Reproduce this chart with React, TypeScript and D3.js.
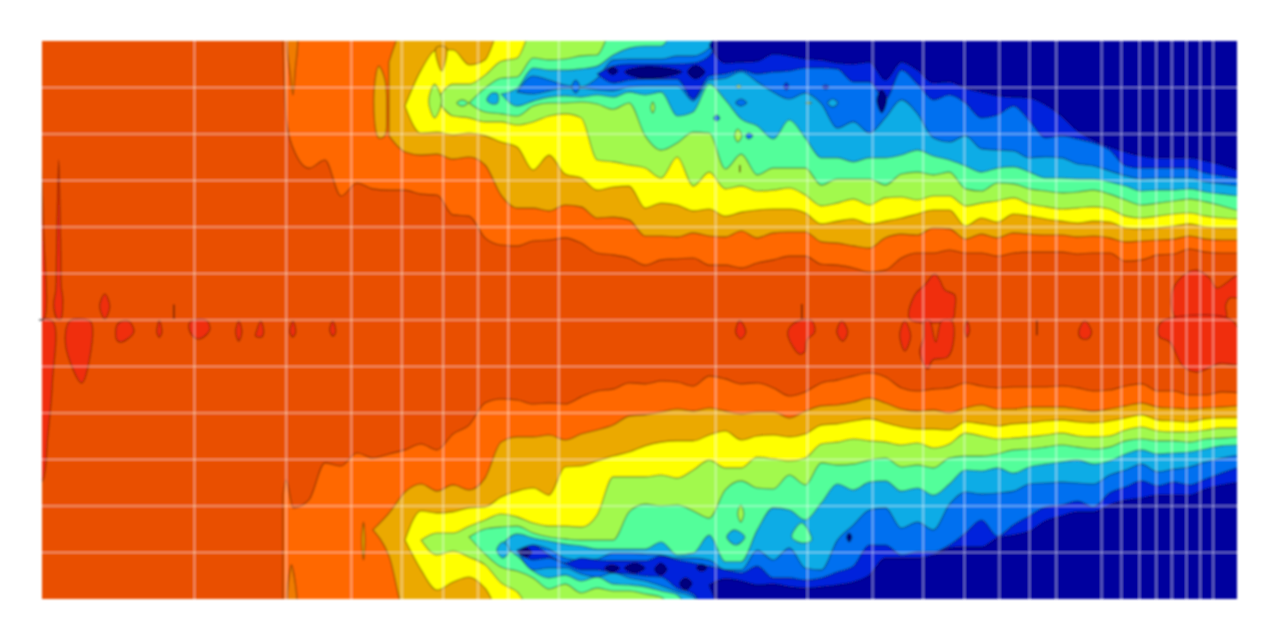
import React from "react";
import * as d3 from "d3";

const FREQS = [147.9,149.9,154.6,165.9,178,191,205,220,236.2,253.5,272.1,292,313.4,336.4,361,387.5,415.9,446.4,479,514.2,551.9,592.3,635.7,682.3,732.3,786,843.6,905.4,971.8,1043,1119.5,1201.5,1289.6,1384,1485.5,1594.4,1711,1836.7,1971.3,2115.8,2270.9,2437.4,2616,2807.7,3013.5,3234.4,3471.5,3726,3999,4292,4606.8,4944.4,5306.8,5695.8,6113.3,6561.4,7042,7558,8112,8707,9345,10100];
const FREQ_GRID = [100,150,200,250,300,350,400,500,1000,1500,2000,2500,3000,3500,4000,4500,5500,6000,6500,7000,7500,8000,8500,9000];
const ANGLE_GRID = [-75,-60,-45,-30,-15,0,15,30,45,60,75];

const COLORS = {
  deep: "#E94F00", orange: "#FF6800", amber: "#EBA900", yellow: "#FFFF00", lime: "#A2F94E",
  spring: "#52FE9A", sky: "#0FACE6", blue: "#0070F0", dblue: "#0520DC", navy: "#00009E", red: "#F02E0C",
};

// Angle (degrees) of each contour edge; each list ends at the last frequency.
const upOrange = [90,65.2,55.5,49,51.6,40,44.2,42.3,41.9,41.9,40.6,40.3,33.9,33.5,26.5,24.2,23.9,25.5,25.8,26.5,24.8,21.6,21,20,17.7,19.4,19.7,20,17.7,17.7,16.8,18.4,19.4,20.6,20.6,18,17.7,16.8,15.5,16.1,20,21.6,21.6,22.6,21.6,21.6,20.6,21.6,21.9,21.9,21.9,21.3,21.6,21.6,19,19.4,21,21.3,22.9,21.9,21.6,21.6];
const upAmber = [59.4,54.2,53.2,53.5,51.9,52.6,50,40.3,36.1,36.1,35.2,37.1,36.5,32.9,33.2,32.3,27.1,27.1,26.8,28.1,27.1,26.8,28.7,26.5,28.1,28.4,28.4,25.2,24.8,23.9,23.2,26.5,27.7,27.4,29.7,29.4,26.1,27.7,26.5,28.1,27.7,27.4,27.4,26.8,27.1,26.5,25.2,25.5,25.8,26.1,27.1,26.1,25.8,25.8];
const upAmberOuter = [83.2];
const upYellow = [69,60.3,60.6,59.7,60.3,59.4,57.4,55.8,48.4,53.2,47.1,45.8,41.9,42.9,43.2,36.1,37.7,37.1,35.2,35.8,33.5,34.8,35.5,35.8,35.8,34.5,31,31.9,32.6,31,31.9,32.9,34.2,35.5,35.5,30.3,32.9,31.6,34.2,33.5,32.6,31.9,31.3,31.9,31.6,29.7,29.4,29.7,30.3,31,30,29.7,29.7];
const upYellowOuter = [69,80.6,87.1,87.1,82.3,83.9];
const upLime = [71,65.8,65.2,63.9,63.9,62.9,63.9,65.8,66.5,65.2,51.6,51,50,49,45.8,52.6,43.2,47.7,42.3,43.2,41.6,41.9,42.6,40.3,36.8,37.7,39,37.1,39.4,39.7,38.7,40,40,36.8,37.7,38.4,39.4,37.4,36.5,35.8,36.1,36.5,35.8,33.5,32.9,33.5,34.2,34.5,33.5,32.9,32.6];
const upLimeOuter = [71,76.1,76.1,79,83.5,84.5];
const upSpring = [70,67.1,66.5,65.8,69,70,70,70.3,69.7,68,70,59.4,54.8,57.1,60.6,60.3,48.7,53.5,46.8,49,49,49,43.5,45.5,45.5,45.5,43.5,47.1,47.7,46.8,47.7,42.3,41.6,44.2,43.9,42.3,41.6,41,41.3,41.9,40.6,38.7,37.1,37.7,38.4,39,38.1,36.8,35.2];
const upSpringOuter = [70,74.8,78,78.4,84.5,83.9,84.2,85.2,85.5];
const upSky = [72.9,69,70.6,71.9,72.3,71.9,72.6,71.9,73.5,72.6,73.5,65.8,67.1,76.1,71,64.8,62.6,58.4,64.5,58.7,52.3,52.3,51,52.3,52.3,53.2,54.8,52.9,51.6,49.7,47.7,49,49.4,47.7,45.8,45.8,45.5,45.5,44.5,43.2,41.6,41.9,41.9,42.3,41.3,40.6,40];
const upSkyOuter = [72.9,74.8,81.3,80.6,80.6,81,81.9,85.5,87.7,88.4,88.4];
const upBlue = [73.5,72.9,73.9,74.8,74.8,74.2,73.9,75.2,75.5,75.5,75.5,70.6,77.4,78,80,76.8,73.5,71.3,73.2,69.7,61.9,63.9,60.3,65.2,71,66.5,58.7,57.4,59.4,55.2,54.8,54.5,52.3,52.6,52.3,50.3,49.7,48.1,46.5,45.5,45.8,45.8,45.8,44.5,43.9,43.2];
const upBlueOuter = [73.5,78.7,77.4,75.8,75.2,78,83.9,84.2,84.2,84.2,85.2,85.2,87.7];
const upDblue = [79.4,76.5,77.4,77.7,77.7,77.7,71.3,78.7,79.4,80.6,79.4,80,80.3,81.3,81.3,81,76.8,76.8,71,80.6,76.1,71,72.6,70,65.2,66.1,69,64.2,58.7,59.4,58.4,57.1,54.8,49.7,49,49,49,49,47.4,46.5,45.5];
const upDblueOuter = [79.4,81.9,82.6,82.6,82.6,82.6,82.9,85.2];
const upNavy = [88.7,82.9,83.2,83.5,85.8,85.2,84.2,83.9,82.9,82.6,83.2,77.4,83.2,80.6,76.5,76.8,74.8,73.5,72.3,71.9,71.6,69.4,65.8,61,58,55.8,54.2,52.9,52.3,52.3,52.3,51.3,50,48.1];
const upNavyOuter = [88.7];

const lowOrange = [-56.5,-51.6,-60.6,-58,-46.1,-47.1,-42.9,-44.5,-43.2,-41.9,-40,-41.9,-36.8,-33.9,-26.8,-25.5,-25.8,-27.1,-26.8,-27.1,-24.8,-22.9,-22.3,-20.3,-20.6,-19.7,-20,-21.3,-18.1,-19,-20.6,-20.3,-21.9,-24.5,-23.2,-20.3,-19.4,-18.1,-17.1,-18.4,-21.9,-22.9,-22.3,-21.9,-20.3,-21.3,-21.9,-21.6,-21.6,-21.6,-21.3,-21.9,-22.9,-22.6,-21.3,-20.6,-22.9,-22.9,-24.2,-24.2,-23.2,-23.5];
const lowAmber = [-67.7,-62.3,-55.5,-52.9,-55.2,-53.2,-54.8,-51,-39.4,-37.7,-37.7,-37.1,-38.7,-36.8,-35.5,-33.9,-31,-30.6,-29.7,-28.7,-29.4,-28.4,-29.4,-30.3,-29.7,-29.7,-31.6,-29.4,-27.7,-27.4,-26.5,-25.2,-26.8,-28.7,-29.4,-29,-30,-28.4,-27.4,-28.7,-28.7,-28.1,-28.1,-28.1,-28.7,-29.4,-28.7,-27.7,-26.8,-28.1,-28.4,-28.7,-28.4,-28.1,-27.7];
const lowAmberOuter = [-67.7,-76.1];
const lowYellow = [-71,-61.6,-62.3,-61.9,-60.6,-60.3,-57.1,-55.2,-54.2,-56.5,-47.4,-47.1,-45.5,-43.9,-42.6,-40.6,-39.4,-39,-39,-37.1,-35.8,-38.7,-37.4,-37.1,-37.7,-36.8,-33.9,-33.5,-32.6,-31.9,-33.2,-34.5,-35.2,-35.2,-35.5,-32.9,-33.5,-34.2,-33.5,-33.2,-32.6,-32.3,-32.9,-33.2,-32.6,-31.6,-30.6,-32.3,-32.6,-32.9,-31.9,-31.6,-31.6];
const lowYellowOuter = [-71,-80.6,-87.1,-84.5,-82.9,-86.5];
const lowLime = [-71,-68.7,-68.7,-66.5,-64.5,-62.6,-63.5,-65.5,-66.5,-66.5,-66.8,-62.9,-50.6,-50.6,-50.6,-50,-51,-48.4,-45.2,-47.7,-47.7,-44.2,-44.8,-45.5,-44.5,-40,-39.4,-38.4,-39,-39.4,-40.3,-39.7,-41.3,-40,-36.5,-37.4,-38.4,-38.1,-37.7,-37.1,-36.5,-37.4,-37.7,-37.4,-35.5,-34.5,-35.8,-36.1,-36.1,-35.5,-34.8,-34.8];
const lowLimeOuter = [-71,-75.8,-74.5,-76.5,-79,-84.8,-87.7];
const lowSpring = [-70,-67.4,-66.8,-66.5,-68.7,-70,-70.6,-71,-71,-71,-61.9,-59.4,-60,-59.7,-61.6,-63.9,-54.8,-51.9,-54.2,-54.5,-50,-53.2,-46.1,-46.8,-46.5,-45.2,-44.5,-47.4,-46.8,-47.7,-44.5,-43.9,-43.9,-43.2,-41.9,-41.6,-41,-40.3,-41,-41.6,-41,-39,-38.4,-39,-39,-39.4,-38.4,-38.1,-37.7];
const lowSpringOuter = [-70,-75.5,-79.7,-81,-83.2,-86.8,-85.2,-88,-86.5,-87.4,-87.4,-88.4,-89.4];
const lowSky = [-72.6,-69,-70.3,-71.3,-72.3,-72.9,-73.9,-73.9,-73.9,-73.9,-71.6,-75.8,-75.2,-69.4,-78,-78,-67.7,-60.6,-61.3,-64.5,-59,-52.9,-54.8,-52.3,-51.9,-55.2,-54.2,-56.5,-52.9,-48.4,-48.7,-47.7,-49.4,-47.4,-46.5,-45.8,-45.2,-46.5,-45.5,-43.2,-41.9,-43.2,-42.9,-42.6,-41.6,-40.6,-40.3];
const lowSkyOuter = [-72.6,-76.1,-81,-83.2,-82.3,-84.2,-82.9,-85.2,-85.5,-86.1,-87.4,-88.7];
const lowBlue = [-74.2,-72.6,-73.9,-76.8,-77.4,-77.1,-75.2,-75.2,-75.5,-75.8,-76.8,-76.8,-77.4,-80.6,-80.6,-74.2,-77.4,-73.5,-80,-80.6,-71,-66.1,-61.3,-60.6,-67.1,-65.2,-67.7,-59.4,-55.5,-56.1,-55.8,-55.2,-52.9,-52.6,-52.3,-52.6,-52.9,-50,-48.4,-46.5,-49,-48.1,-47.4,-45.8,-44.5,-43.5];
const lowBlueOuter = [-74.2,-80.6,-80,-80,-81.9,-82.9,-81.6,-83.2,-84.2,-85.8,-87.7,-89.4];
const lowDblue = [-74.8,-72.6,-75.8,-78.4,-76.8,-77.4,-77.7,-77.7,-77.7,-76.1,-77.4,-78.4,-79.4,-80.6,-81.6,-79.4,-83.2,-83.2,-83.9,-83.2,-81.3,-79.4,-72.6,-72.6,-75.8,-74.8,-74.8,-72.6,-68.7,-64.5,-69.7,-66.1,-63.2,-60.3,-59.7,-58.4,-60.3,-55.8,-53.9,-51.9,-53.5,-52.3,-53.2,-51.3,-49.4,-47.4];
const lowDblueOuter = [-74.8,-77.4,-76.8,-78.7,-80.6,-80.6,-81.6,-81.9,-82.6,-82.9,-86.5,-88.4];
const lowNavy = [-85.5,-83.5,-84.2,-85.5,-85.2,-86.1,-86.5,-86.1,-85.5,-84.5,-82.3,-76.8,-76.8,-76.8,-75.8,-73.5,-73.2,-73.2,-70.3,-69.4,-68.1,-64.8,-63.2,-61.9,-61.9,-59.7,-58.1,-57.4,-56.5,-56.5,-56.5,-54.5,-53.2,-52.3];
const lowNavyOuter = [-85.5];

type Pt = [number, number];
// Small closed contours inside the bands: [Hz, degrees].
const amberIslands: Pt[][] = [
  [[225.7,81.9],[220.8,71.3],[225.7,58.7],[231.8,59.4],[233.8,66.5],[231.8,77.7]],
  [[209.5,-71],[211,-65.2],[212.3,-71],[211,-77.4]],
  [[290.3,87.6],[298,80.3],[304.8,87.6],[298,88.4]],
];
const sliverIslands: Pt[][] = [
  [[151,93],[153,78],[154.5,72.6],[156,80],[156.8,93]],
  [[151.5,-93],[153.5,-79],[156.5,-93]],
];
const limeIslands: Pt[][] = [
  [[281.4,70.6],[288.9,76.1],[298,70.6],[288.9,65.2]],
  [[750.4,68.5],[757.2,70.3],[763.8,68.5],[757.2,66.8]],
  [[1087,59.5],[1102,61.6],[1122,59.5],[1102,57.4]],
  [[1097,75.3],[1107,75.8],[1117,75.3],[1107,74.8]],
  [[1488,70],[1508,70.3],[1528,70],[1508,69.7]],
  [[1102,-62.5],[1117,-59.7],[1132,-62.5],[1117,-65.2]],
];
const springIslands: Pt[][] = [
  [[318.7,70],[326.4,71],[334.5,70],[326.4,69]],
  [[1399,-70],[1462,-65.5],[1528,-71],[1462,-71.9]],
];
const skyIslands: Pt[][] = [
  [[363.7,71],[371.8,73.2],[381.8,73],[381.8,70],[371.8,69.7]],
  [[380,-74.2],[390.4,-71.6],[402.5,-74.2],[390.4,-76.8]],
  [[1050,-70],[1085,-67.7],[1137,-70],[1092,-72.6]],
  [[1640,70],[1677,71.3],[1714,70],[1677,68.7]],
];
const blueIslands: Pt[][] = [
  [[529.5,75.3],[538.8,77.4],[548.4,75.3],[538.8,73.2]],
  [[991,65.1],[1004,66.1],[1018,65.1],[1004,64.2]],
  [[1142,59.4],[1157,60.3],[1178,59.4],[1157,58.4]],
  [[1092,70.1],[1117,71.3],[1147,70.1],[1117,69]],
];
const dblueIslands: Pt[][] = [
  [[1351,75.3],[1366,76.5],[1380,75.3],[1366,74.2]],
  [[1604,75.2],[1625,75.8],[1647,75.2],[1625,74.5]],
];
const navyIslands: Pt[][] = [
  [[620.8,80.3],[634.4,81.5],[648.6,80.3],[634.4,79.1]],
  [[668.9,80],[715,81.6],[781,81.6],[860.8,80],[781,78.2],[715,78.1]],
  [[883.6,80],[915,82.2],[952.6,80],[915,77.8]],
  [[2037,71],[2082,74.2],[2128,71],[2082,66.8]],
  [[420.7,-75],[432,-73.5],[443.6,-75],[432,-76.5]],
  [[612.5,-80],[631.7,-79],[654,-80],[631.7,-81.3]],
  [[668.9,-80],[699.5,-78.4],[730.7,-80],[699.5,-81.6]],
  [[763.8,-80.5],[784.6,-78.4],[805.4,-80.5],[784.6,-82.3]],
  [[853,-85],[875.6,-83.2],[899.4,-85],[875.6,-87.1]],
  [[919.4,-80],[940,-78.7],[961,-80],[940,-81]],
  [[1783,-70],[1803,-68.7],[1824,-70],[1803,-71.6]],
];
const redIslands: Pt[][] = [
  [[50.5,58],[51.3,30],[51.5,0.5],[50.5,0.5]],
  [[50,-0.5],[53.5,-0.5],[53.4,-20],[52.3,-38],[51.2,-51.6],[50,-53]],
  [[54.9,51.6],[54.4,22.6],[54.2,9.7],[53.7,4.8],[54.6,0.3],[55.4,0.3],[55.9,6.5],[55.5,11],[55.4,22.6]],
  [[65.8,4.5],[67.3,8.4],[68.8,4.5],[67.3,0.3]],
  [[56.6,-8],[57.7,-0.3],[63,-0.3],[63.8,-3.2],[60.8,-20.3]],
  [[71,-1.6],[72.9,-0.3],[75.1,-0.6],[76.5,-3.9],[72.5,-7.1],[71,-6.5]],
  [[85.6,-0.2],[86.6,-3.9],[85.6,-5.6],[84.7,-3.9]],
  [[97.5,-1.6],[98.8,-0.2],[105.6,-0.2],[107,-3.2],[102.4,-6.1],[98.8,-4.8]],
  [[121.6,-0.3],[123.3,-3.9],[121.6,-6.8],[120,-3.9]],
  [[134,-0.3],[135.8,-3.9],[134.6,-5.5],[131,-5.2],[131.6,-3.5]],
  [[154.5,-0.3],[156.4,-3.9],[154.5,-5.5],[152.4,-3.9]],
  [[184.2,-0.3],[186.6,-3.9],[184.2,-5.2],[181.8,-3.2]],
  [[1112,-0.2],[1142,-3.9],[1117,-6.1],[1092,-3.9]],
  [[1449,-0.2],[1528,-0.2],[1549,-3.9],[1495,-6.5],[1481,-10.3],[1449,-11],[1399,-8],[1374,-3.9],[1399,-1.6]],
  [[1745,-0.3],[1792,-3.9],[1753,-6.8],[1707,-3.9]],
  [[2305,-0.3],[2366,-5.2],[2305,-10],[2254,-4.8]],
  [[2356,0.3],[2408,8.1],[2517,11.3],[2631,14.8],[2690,12.9],[2750,9.7],[2874,8.1],[2874,3.2],[2848,0.3]],
  [[2517,-0.3],[2573,-0.3],[2642,-7.1],[2714,-0.3],[2836,-0.3],[2861,-6.5],[2787,-11.9],[2608,-12.9],[2550,-15.8],[2463,-10.6],[2506,-5.5]],
  [[3035,-0.3],[3070,-3.2],[3035,-5.5],[3004,-3.2]],
  [[5103,-0.3],[5262,-3.9],[5171,-6.1],[5014,-5.8],[4969,-3.9]],
  [[7528,9.7],[8008,15.2],[8369,16.1],[8863,13.5],[9143,10.3],[10100,14.5],[10100,7.4],[9683,7.1],[9512,4.8],[9512,0.3],[7662,0.3]],
  [[7045,-3.2],[7204,-0.3],[9813,-0.3],[10100,-14],[9265,-14],[8369,-16.8],[7869,-14.8],[7429,-7.1],[7107,-5.5]],
];
const MARKS: [number, number, number][] = [[91.3,5,0.3],[1462,5.2,0.1],[4129,-0.1,-4.9],[1112,50,47.7]];

const W = 1280, H = 640, M = { l: 42, r: 1237, t: 41, b: 599 };
const x = d3.scaleLog().domain([51, 10000]).range([M.l, M.r]);
const y = d3.scaleLinear().domain([90, -90]).range([M.t, M.b]);

type Band = { color: string; inner: number[]; outer?: number[]; side: 1 | -1 };
const BANDS: Band[] = [
  { color: COLORS.orange, inner: upOrange, side: 1 },
  { color: COLORS.orange, inner: lowOrange, side: -1 },
  { color: COLORS.amber, inner: upAmber, outer: upAmberOuter, side: 1 },
  { color: COLORS.amber, inner: lowAmber, outer: lowAmberOuter, side: -1 },
  { color: COLORS.yellow, inner: upYellow, outer: upYellowOuter, side: 1 },
  { color: COLORS.yellow, inner: lowYellow, outer: lowYellowOuter, side: -1 },
  { color: COLORS.lime, inner: upLime, outer: upLimeOuter, side: 1 },
  { color: COLORS.lime, inner: lowLime, outer: lowLimeOuter, side: -1 },
  { color: COLORS.spring, inner: upSpring, outer: upSpringOuter, side: 1 },
  { color: COLORS.spring, inner: lowSpring, outer: lowSpringOuter, side: -1 },
  { color: COLORS.sky, inner: upSky, outer: upSkyOuter, side: 1 },
  { color: COLORS.sky, inner: lowSky, outer: lowSkyOuter, side: -1 },
  { color: COLORS.blue, inner: upBlue, outer: upBlueOuter, side: 1 },
  { color: COLORS.blue, inner: lowBlue, outer: lowBlueOuter, side: -1 },
  { color: COLORS.dblue, inner: upDblue, outer: upDblueOuter, side: 1 },
  { color: COLORS.dblue, inner: lowDblue, outer: lowDblueOuter, side: -1 },
  { color: COLORS.navy, inner: upNavy, outer: upNavyOuter, side: 1 },
  { color: COLORS.navy, inner: lowNavy, outer: lowNavyOuter, side: -1 },
];
const ISLANDS: [string, Pt[][]][] = [
  ["#F07C00", sliverIslands],
  [COLORS.amber, amberIslands],
  [COLORS.lime, limeIslands],
  [COLORS.spring, springIslands],
  [COLORS.sky, skyIslands],
  [COLORS.blue, blueIslands],
  [COLORS.dblue, dblueIslands],
  ["#00007F", navyIslands],
  [COLORS.red, redIslands],
];

function bandPath(b: Band): string {
  const first = FREQS.length - b.inner.length;
  const rows = b.inner.map((a, k) => ({
    f: FREQS[first + k],
    a0: a,
    a1: b.outer && k < b.outer.length ? b.outer[k] : b.side * 94,
  }));
  const area = d3
    .area<(typeof rows)[number]>()
    .x((r) => x(r.f))
    .y0((r) => y(r.a0))
    .y1((r) => y(r.a1))
    .curve(d3.curveMonotoneX);
  return area(rows) || "";
}

const blob = d3
  .line<Pt>()
  .x((p) => x(p[0]))
  .y((p) => y(p[1]))
  .curve(d3.curveCatmullRomClosed.alpha(0.5));

const LINE = { stroke: "#1a0f00", strokeOpacity: 0.48, strokeWidth: 1.1 };

export default function App() {
  return (
    <svg width={W} height={H} style={{ position: "absolute", left: 0, top: 0, background: "#fff" }}>
      <defs>
        <clipPath id="plot">
          <rect x={M.l} y={M.t} width={M.r - M.l} height={M.b - M.t} />
        </clipPath>
        <filter id="soft" x="0" y="0" width="100%" height="100%">
          <feGaussianBlur stdDeviation="0.8" />
        </filter>
      </defs>
      <g filter="url(#soft)">
        <g clipPath="url(#plot)">
          <rect x={M.l} y={M.t} width={M.r - M.l} height={M.b - M.t} fill={COLORS.deep} />
          {BANDS.map((b, i) => (
            <path key={i} d={bandPath(b)} fill={b.color} {...LINE} />
          ))}
          {ISLANDS.map(([color, list], i) =>
            list.map((pts, j) => <path key={`${i}-${j}`} d={blob(pts) || ""} fill={color} {...LINE} />)
          )}
          {MARKS.map(([f, a, c], i) => (
            <line key={i} x1={x(f)} x2={x(f)} y1={y(a)} y2={y(c)} stroke="#5a1a00" strokeWidth={1.4} />
          ))}
          {ANGLE_GRID.map((a) => (
            <line key={a} x1={M.l} x2={M.r} y1={y(a)} y2={y(a)} stroke="#fff" strokeOpacity={0.45} strokeWidth={1.6} />
          ))}
          {FREQ_GRID.map((f) => (
            <line key={f} x1={x(f)} x2={x(f)} y1={M.t} y2={M.b} stroke="#fff" strokeOpacity={0.45} strokeWidth={1.6} />
          ))}
        </g>
        <line x1={M.l - 3} x2={M.l + 2} y1={y(0)} y2={y(0)} stroke="#333" strokeWidth={1.2} />
      </g>
    </svg>
  );
}
